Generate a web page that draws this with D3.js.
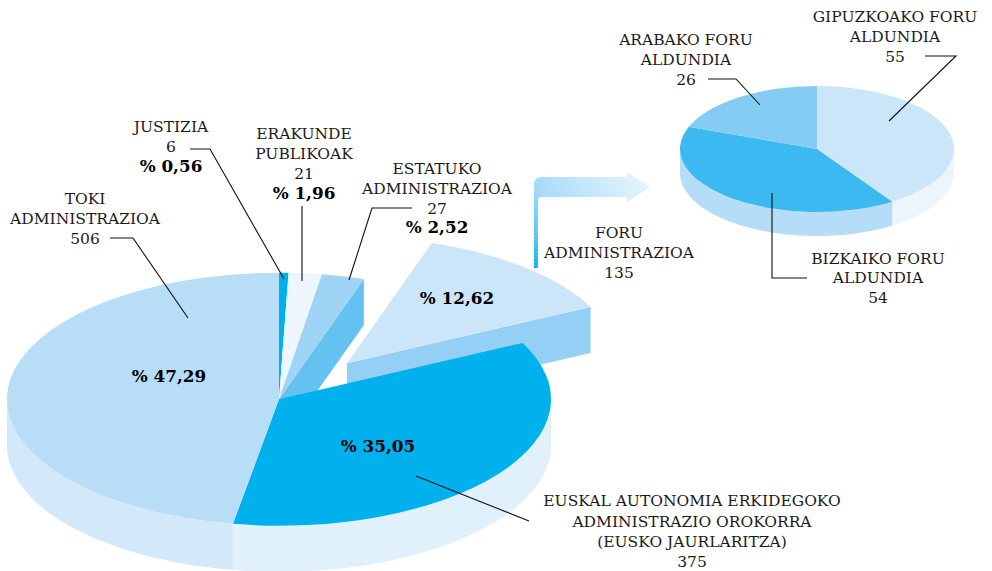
<!DOCTYPE html>
<html>
<head>
<meta charset="utf-8">
<script src="https://cdn.jsdelivr.net/npm/d3@7/dist/d3.min.js"></script>
<style>
html,body{margin:0;padding:0;background:#fff}
svg{display:block}
text{font-family:"DejaVu Serif",serif;fill:#1a1a1a}
</style>
</head>
<body>
<svg id="chart" width="992" height="571"></svg>
<script>
// Data
const mainCategories = ["JUSTIZIA","ERAKUNDE PUBLIKOAK","ESTATUKO ADMINISTRAZIOA","FORU ADMINISTRAZIOA","EUSKAL AUTONOMIA ERKIDEGOKO ADMINISTRAZIO OROKORRA (EUSKO JAURLARITZA)","TOKI ADMINISTRAZIOA"];
const mainValues = [6,21,27,135,375,506];
const mainPercents = ["0,56","1,96","2,52","12,62","35,05","47,29"];
const foruCategories = ["GIPUZKOAKO FORU ALDUNDIA","BIZKAIKO FORU ALDUNDIA","ARABAKO FORU ALDUNDIA"];
const foruValues = [55,54,26];

// Styling and layout
const mainTop  = ["#00b0ef","#eef6fd","#9fd4f6","#cbe6f9","#00b1ee","#b7ddf7"];
const mainWall = ["#00b0ef","#eef6fd","#64c2f0","#96cff5","#e1f1fc","#d3e9fa"];
const foruTop  = ["#cbe6f9","#3cb9f0","#85ccf4"];
const foruWall = ["#edf5fc","#b6ddf7","#85ccf4"];
const mainGeo = {cx:279, cy:399.2, rx:272, ry:126.5, depth:46};
const foruGeo = {cx:817, cy:149, rx:137, ry:63, depth:24};
const explodeOffset = {dx:68, dy:-36};
const explodedIndex = 3;

const svg = d3.select("#chart");
const pie = d3.pie().sort(null).value(d => d);

function rim(g, a){ return [g.cx + g.rx*Math.sin(a), g.cy - g.ry*Math.cos(a)]; }

function drawTop(parent, g, slice, fill, off){
  const arc = d3.arc().innerRadius(0).outerRadius(g.rx);
  parent.append("path")
    .attr("d", arc(slice))
    .attr("fill", fill)
    .attr("transform", `translate(${g.cx+(off?off.dx:0)},${g.cy+(off?off.dy:0)}) scale(1,${g.ry/g.rx})`);
}
function drawOuterWall(parent, g, slice, fill){
  const a0 = Math.max(slice.startAngle, Math.PI/2), a1 = Math.min(slice.endAngle, 3*Math.PI/2);
  if (a1 <= a0) return;
  const steps = d3.range(0, 1.0001, 1/60).map(t => a0 + (a1-a0)*t);
  const area = d3.area().x(a => rim(g,a)[0]).y0(a => rim(g,a)[1]).y1(a => rim(g,a)[1]+g.depth);
  parent.append("path").attr("d", area(steps)).attr("fill", fill);
}
function drawCutFace(parent, g, angle, fill, off){
  const dx = off?off.dx:0, dy = off?off.dy:0;
  const [x,y] = rim(g, angle);
  const line = d3.line();
  parent.append("path")
    .attr("d", line([[g.cx+dx,g.cy+dy],[x+dx,y+dy],[x+dx,y+dy+g.depth],[g.cx+dx,g.cy+dy+g.depth]])+"Z")
    .attr("fill", fill);
}

// Arrow between the two pies
const defs = svg.append("defs");
const grad = defs.append("linearGradient").attr("id","arrowGrad")
  .attr("gradientUnits","userSpaceOnUse").attr("x1",534).attr("y1",268).attr("x2",650).attr("y2",187);
[[0,"#00b1ee"],[0.14,"#4fc3f2"],[0.34,"#9fd9f8"],[0.6,"#bfe4fa"],[1,"#e3f3fc"]].forEach(s =>
  grad.append("stop").attr("offset",s[0]).attr("stop-color",s[1]));
const hatch = defs.append("pattern").attr("id","arrowHatch").attr("patternUnits","userSpaceOnUse")
  .attr("width",3).attr("height",3).attr("patternTransform","rotate(35)");
hatch.append("line").attr("x1",0).attr("y1",0).attr("x2",3).attr("y2",0)
  .attr("stroke","#fff").attr("stroke-opacity",0.28).attr("stroke-width",1.2);
const ap = d3.path();
ap.moveTo(534,268); ap.lineTo(534,185); ap.quadraticCurveTo(534,177,542,177);
ap.lineTo(627,177); ap.lineTo(627,172); ap.lineTo(650,187); ap.lineTo(627,202); ap.lineTo(627,197);
ap.lineTo(541,197); ap.quadraticCurveTo(538,197,538,200); ap.lineTo(538,268); ap.closePath();
svg.append("path").attr("d",ap.toString()).attr("fill","url(#arrowGrad)");
svg.append("path").attr("d",ap.toString()).attr("fill","url(#arrowHatch)");

// Main pie
const mainSlices = pie(mainValues);
const gMain = svg.append("g");
mainSlices.forEach((s,i)=>{ if(i!==explodedIndex) drawOuterWall(gMain, mainGeo, s, mainWall[i]); });
// exploded slice: cut face, then its top
drawCutFace(gMain, mainGeo, mainSlices[explodedIndex].endAngle, mainWall[explodedIndex], explodeOffset);
drawTop(gMain, mainGeo, mainSlices[explodedIndex], mainTop[explodedIndex], explodeOffset);
// cut face left open by the removed slice
drawCutFace(gMain, mainGeo, mainSlices[2].endAngle, mainWall[2]);
mainSlices.forEach((s,i)=>{ if(i!==explodedIndex) drawTop(gMain, mainGeo, s, mainTop[i]); });

// Foru pie
const foruSlices = pie(foruValues);
const gForu = svg.append("g");
foruSlices.forEach((s,i)=> drawOuterWall(gForu, foruGeo, s, foruWall[i]));
foruSlices.forEach((s,i)=> drawTop(gForu, foruGeo, s, foruTop[i]));

// Leader lines
const leaders = [
  [[110,238],[133,238],[188,318]],
  [[190,149],[210,149],[284,279]],
  [[302,206],[302,281]],
  [[412,208],[372,208],[349,280]],
  [[416,476],[529,521]],
  [[708,79],[736,79],[760,105]],
  [[925,56],[956,56],[889,121]],
  [[772,193],[772,278],[807,278]]
];
const leaderLine = d3.line();
svg.append("g").selectAll("path").data(leaders).join("path")
  .attr("d", d=>leaderLine(d)).attr("fill","none").attr("stroke","#111").attr("stroke-width",1.1);

// Labels
const labelFont = 15.5, pctFont = 16.8;
const labels = [
  {x:171,y:[132,152,172],t:["JUSTIZIA",String(mainValues[0]),"% "+mainPercents[0]],bold:[2]},
  {x:304,y:[139,159,179,199],t:["ERAKUNDE","PUBLIKOAK",String(mainValues[1]),"% "+mainPercents[1]],bold:[3]},
  {x:437,y:[174,194,214,233],t:["ESTATUKO","ADMINISTRAZIOA",String(mainValues[2]),"% "+mainPercents[2]],bold:[3]},
  {x:85,y:[204,224,244],t:["TOKI","ADMINISTRAZIOA",String(mainValues[5])],bold:[]},
  {x:619,y:[238,258,278],t:["FORU","ADMINISTRAZIOA",String(mainValues[3])],bold:[]},
  {x:692,y:[506,527,547,567],t:["EUSKAL AUTONOMIA ERKIDEGOKO","ADMINISTRAZIO OROKORRA","(EUSKO JAURLARITZA)",String(mainValues[4])],bold:[]},
  {x:686,y:[45,65,85],t:["ARABAKO FORU","ALDUNDIA",String(foruValues[2])],bold:[]},
  {x:895,y:[22,42,62],t:["GIPUZKOAKO FORU","ALDUNDIA",String(foruValues[0])],bold:[]},
  {x:878,y:[264,283,303],t:["BIZKAIKO FORU","ALDUNDIA",String(foruValues[1])],bold:[]},
  {x:169,y:[382],t:["% "+mainPercents[5]],bold:[0]},
  {x:378,y:[452],t:["% "+mainPercents[4]],bold:[0]},
  {x:457,y:[304],t:["% "+mainPercents[3]],bold:[0]}
];
const gText = svg.append("g").attr("text-anchor","middle");
labels.forEach(l=>{
  l.t.forEach((s,i)=>{
    const b = l.bold.includes(i);
    gText.append("text").attr("x",l.x).attr("y",l.y[i]).text(s)
      .attr("font-size", b?pctFont:labelFont)
      .attr("font-weight", b?"bold":"normal")
      .style("fill", b?"#000":"#1a1a1a");
  });
});
</script>
</body>
</html>
